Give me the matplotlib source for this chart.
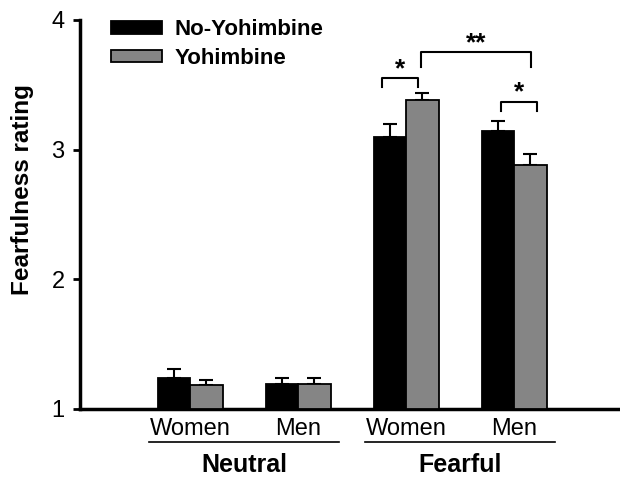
import matplotlib
matplotlib.use("Agg")
import matplotlib.pyplot as plt
import numpy as np

plt.rcParams['font.family'] = ['Liberation Sans', 'DejaVu Sans']

groups = ['Neutral', 'Fearful']
subgroups = ['Women', 'Men', 'Women', 'Men']
series = ['No-Yohimbine', 'Yohimbine']
no_yoh = [1.24, 1.19, 3.10, 3.14]
no_yoh_err = [0.07, 0.05, 0.10, 0.08]
yoh = [1.185, 1.195, 3.38, 2.885]
yoh_err = [0.035, 0.045, 0.06, 0.085]
colors = ['black', '#858585']

fig = plt.figure(figsize=(6.2, 4.78), dpi=100)
ax = fig.add_axes([0.129, 0.1444, 0.871, 0.8138])

x = np.arange(len(subgroups))
w = 0.3
ax.bar(x - w / 2, np.array(no_yoh) - 1, w, bottom=1, color=colors[0], edgecolor='black',
       linewidth=1.3, label=series[0], zorder=3)
ax.bar(x + w / 2, np.array(yoh) - 1, w, bottom=1, color=colors[1], edgecolor='black',
       linewidth=1.3, label=series[1], zorder=3)
ax.errorbar(x - w / 2, no_yoh, yerr=[np.zeros(4), no_yoh_err], fmt='none', ecolor='black',
            elinewidth=1.5, capsize=5, capthick=1.5, zorder=2)
ax.errorbar(x + w / 2, yoh, yerr=[np.zeros(4), yoh_err], fmt='none', ecolor='black',
            elinewidth=1.5, capsize=5, capthick=1.5, zorder=2)

ax.set_xlim(-1.02, 3.98)
ax.set_ylim(1, 4)
ax.set_yticks([1, 2, 3, 4])
ax.tick_params(axis='y', labelsize=17, direction='out', length=5, width=2, pad=6)
ax.set_xticks([])
for s in ['top', 'right']:
    ax.spines[s].set_visible(False)
ax.spines['left'].set_linewidth(2.5)
ax.spines['bottom'].set_linewidth(2.5)
ax.set_ylabel('Fearfulness rating', fontsize=17.5, fontweight='bold')
ax.yaxis.set_label_coords(-0.085, 0.563)

# sub labels and group labels
xt = ax.get_xaxis_transform()
for xi, lab in zip(x, subgroups):
    ax.text(xi, -0.052, lab, transform=xt, ha='center', va='center', fontsize=17)
for gi, g in enumerate(groups):
    x0, x1 = 2 * gi - 0.38, 2 * gi + 1.38
    ax.plot([x0, x1], [-0.085, -0.085], transform=xt, color='black', lw=1.2, clip_on=False)
    ax.text((x0 + x1) / 2, -0.145, g, transform=xt, ha='center', va='center',
            fontsize=18, fontweight='bold')

# significance brackets
def bracket(xa, xb, y, drop, label):
    ax.plot([xa, xa, xb, xb], [y - drop, y, y, y - drop], color='black', lw=1.5, clip_on=False)
    ax.text((xa + xb) / 2, y - 0.02, label, ha='center', va='bottom', fontsize=19, fontweight='bold')

bracket(2 - 0.22, 2 + 0.11, 3.55, 0.07, '*')
bracket(2 + 0.14, 3 + 0.16, 3.75, 0.11, '**')
bracket(3 - 0.12, 3 + 0.21, 3.37, 0.07, '*')

ax.legend(loc='upper left', bbox_to_anchor=(0.02, 1.053), frameon=False,
          handlelength=2.3, handleheight=0.47, handletextpad=0.55, labelspacing=0.35,
          prop={'weight': 'bold', 'size': 16})

fig.savefig('out.png', dpi=100)
